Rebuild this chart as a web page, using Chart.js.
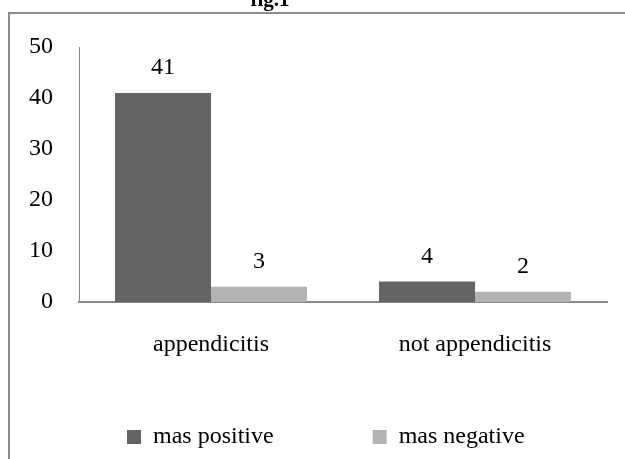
<!DOCTYPE html>
<html>
<head>
<meta charset="utf-8">
<script src="https://cdn.jsdelivr.net/npm/chart.js@4/dist/chart.umd.min.js"></script>
<style>
  html, body { margin: 0; padding: 0; background: #fff; }
  #wrap { width: 625px; height: 459px; position: relative; }
</style>
</head>
<body>
<div id="wrap"><canvas id="c"></canvas></div>
<script>
const categories = ['appendicitis', 'not appendicitis'];
const masPositive = [41, 4];
const masNegative = [3, 2];
const seriesNames = ['mas positive', 'mas negative'];
const yTicks = [0, 10, 20, 30, 40, 50];
const titleText = 'fig.1';

const FONT = "'Liberation Serif', 'Times New Roman', serif";

const framePlugin = {
  id: 'frame',
  beforeDraw(chart) {
    const ctx = chart.ctx;
    ctx.save();
    ctx.fillStyle = '#ffffff';
    ctx.fillRect(0, 0, chart.width, chart.height);
    ctx.strokeStyle = '#8a8a8a';
    ctx.lineWidth = 2;
    ctx.strokeRect(9, 13, chart.width + 50, chart.height + 50);
    ctx.fillStyle = '#000';
    ctx.font = 'bold 21px ' + FONT;
    ctx.textAlign = 'center';
    ctx.textBaseline = 'alphabetic';
    ctx.fillText(titleText, 270, 6);
    ctx.restore();
  }
};

const valueLabels = {
  id: 'valueLabels',
  afterDatasetsDraw(chart) {
    const ctx = chart.ctx;
    ctx.save();
    ctx.fillStyle = '#000';
    ctx.font = '24px ' + FONT;
    ctx.textAlign = 'center';
    ctx.textBaseline = 'middle';
    chart.data.datasets.forEach((ds, i) => {
      const meta = chart.getDatasetMeta(i);
      meta.data.forEach((bar, j) => {
        ctx.fillText(String(ds.data[j]), bar.x, bar.y - 25);
      });
    });
    ctx.restore();
  }
};

new Chart(document.getElementById('c'), {
  type: 'bar',
  data: {
    labels: categories,
    datasets: [
      { label: seriesNames[0], data: masPositive, backgroundColor: '#646464', borderWidth: 0 },
      { label: seriesNames[1], data: masNegative, backgroundColor: '#b3b3b3', borderWidth: 0 }
    ]
  },
  options: {
    responsive: true,
    maintainAspectRatio: false,
    animation: false,
    devicePixelRatio: 1,
    categoryPercentage: 0.727,
    barPercentage: 1.0,
    layout: { padding: { left: 28, right: 0, top: 47, bottom: 0 } },
    plugins: {
      title: { display: false },
      tooltip: { enabled: false },
      legend: {
        display: true,
        position: 'bottom',
        align: 'start',
        labels: {
          boxWidth: 14,
          boxHeight: 14,
          padding: 99,
          color: '#000',
          font: { family: FONT, size: 24 }
        }
      }
    },
    scales: {
      x: {
        grid: { display: false, drawTicks: false },
        border: { display: true, color: '#888888', width: 2 },
        ticks: { color: '#000', font: { family: FONT, size: 24 }, padding: -57, mirror: true, maxRotation: 0, autoSkip: false },
        afterFit(scale) { scale.height = 24; }
      },
      y: {
        min: yTicks[0],
        max: yTicks[yTicks.length - 1],
        grid: { display: false, drawTicks: false },
        border: { display: true, color: '#888888', width: 1 },
        ticks: { stepSize: 10, color: '#000', font: { family: FONT, size: 24 }, padding: 26 },
        afterFit(scale) { scale.width = 51; }
      },
      yRight: {
        type: 'linear',
        position: 'right',
        display: true,
        grid: { display: false, drawTicks: false },
        border: { display: false },
        ticks: { display: false },
        afterFit(scale) { scale.width = 18; }
      }
    }
  },
  plugins: [framePlugin, valueLabels]
});
</script>
</body>
</html>
